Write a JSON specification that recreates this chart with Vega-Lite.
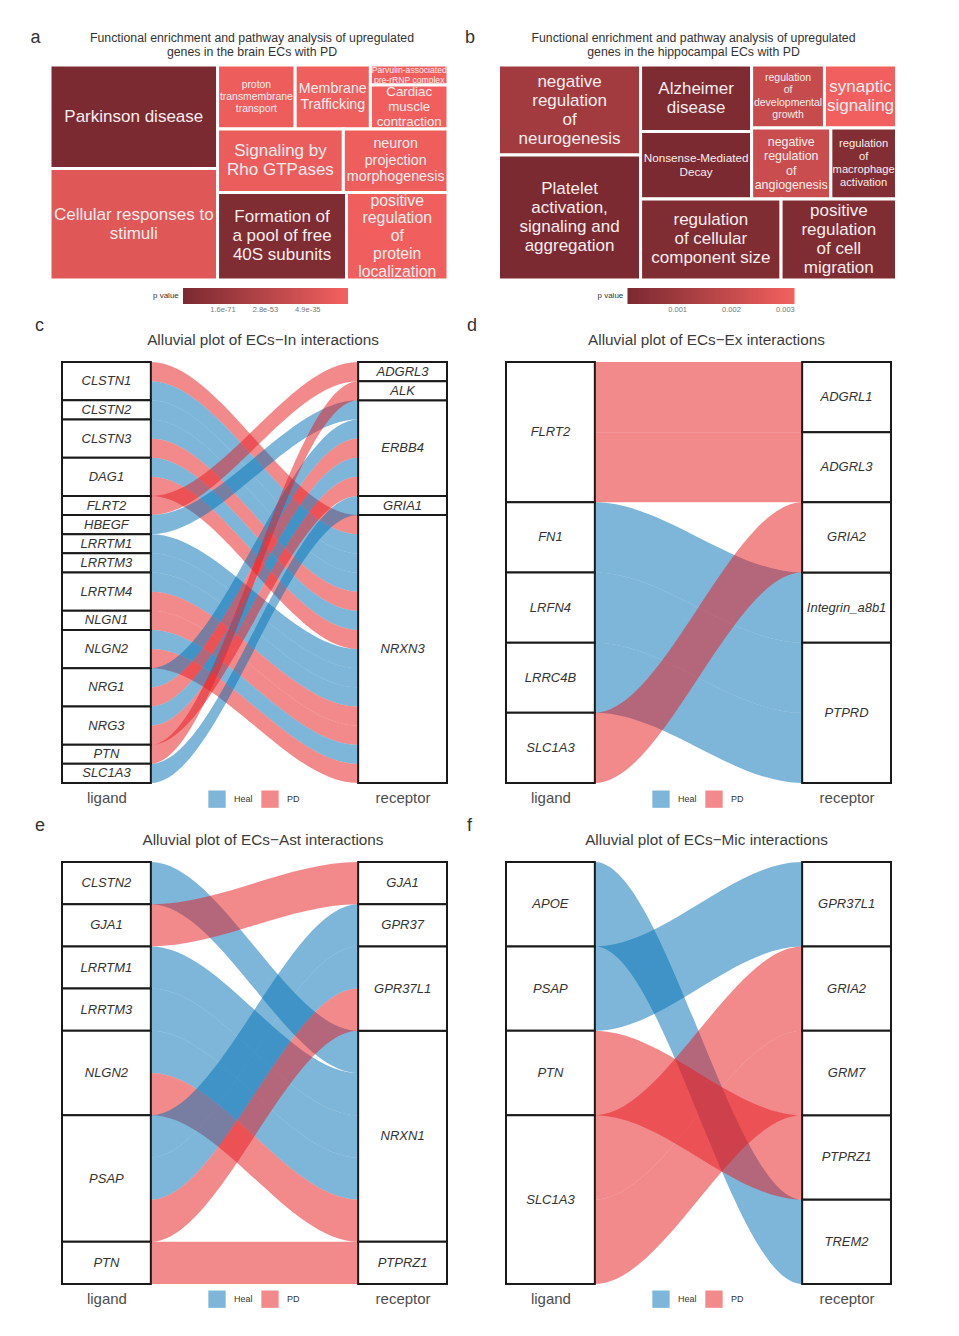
{
  "$schema": "https://vega.github.io/schema/vega-lite/v6.json",
  "background": "white",
  "padding": {"left": 30, "top": 29, "right": 0, "bottom": 0},
  "config": {
    "view": {"stroke": null},
    "font": "Liberation Sans",
    "title": {"font": "Liberation Sans", "fontWeight": "normal", "color": "#333333"},
    "text": {"font": "Liberation Sans"}
  },
  "datasets": {
    "terms_a": [
      {"term": "Parkinson disease", "x0": 0, "x1": 0.421, "y0": 0, "y1": 0.481, "p": 1.2e-88},
      {"term": "Cellular responses to\nstimuli", "x0": 0, "x1": 0.421, "y0": 0.481, "y1": 1, "p": 1e-29},
      {"term": "proton\ntransmembrane\ntransport", "x0": 0.421, "x1": 0.616, "y0": 0, "y1": 0.298, "p": 2e-22},
      {"term": "Membrane\nTrafficking", "x0": 0.616, "x1": 0.805, "y0": 0, "y1": 0.298, "p": 1e-20},
      {"term": "Parvulin-associated\npre-rRNP complex", "x0": 0.805, "x1": 1, "y0": 0, "y1": 0.093, "p": 1e-18},
      {"term": "Cardiac\nmuscle\ncontraction", "x0": 0.805, "x1": 1, "y0": 0.093, "y1": 0.298, "p": 1e-19},
      {"term": "Signaling by\nRho GTPases", "x0": 0.421, "x1": 0.737, "y0": 0.298, "y1": 0.593, "p": 1e-22},
      {"term": "neuron\nprojection\nmorphogenesis", "x0": 0.737, "x1": 1, "y0": 0.298, "y1": 0.593, "p": 3e-21},
      {"term": "Formation of\na pool of free\n40S subunits", "x0": 0.421, "x1": 0.745, "y0": 0.593, "y1": 1, "p": 4e-86},
      {"term": "positive\nregulation\nof\nprotein\nlocalization", "x0": 0.745, "x1": 1, "y0": 0.593, "y1": 1, "p": 1e-19}
    ],
    "terms_b": [
      {"term": "negative\nregulation\nof\nneurogenesis", "x0": 0, "x1": 0.357, "y0": 0, "y1": 0.419, "p": 0.0011},
      {"term": "Platelet\nactivation,\nsignaling and\naggregation", "x0": 0, "x1": 0.357, "y0": 0.419, "y1": 1, "p": 0.0001},
      {"term": "Alzheimer\ndisease", "x0": 0.357, "x1": 0.636, "y0": 0, "y1": 0.309, "p": 0.00015},
      {"term": "Nonsense-Mediated\nDecay", "x0": 0.357, "x1": 0.636, "y0": 0.309, "y1": 0.623, "p": 0.0001},
      {"term": "regulation\nof\ndevelopmental\ngrowth", "x0": 0.636, "x1": 0.819, "y0": 0, "y1": 0.293, "p": 0.0020},
      {"term": "synaptic\nsignaling", "x0": 0.819, "x1": 1, "y0": 0, "y1": 0.293, "p": 0.0031},
      {"term": "negative\nregulation\nof\nangiogenesis", "x0": 0.636, "x1": 0.835, "y0": 0.293, "y1": 0.623, "p": 0.0021},
      {"term": "regulation\nof\nmacrophage\nactivation", "x0": 0.835, "x1": 1, "y0": 0.293, "y1": 0.623, "p": 0.0003},
      {"term": "regulation\nof cellular\ncomponent size", "x0": 0.357, "x1": 0.71, "y0": 0.623, "y1": 1, "p": 0.0002},
      {"term": "positive\nregulation\nof cell\nmigration", "x0": 0.71, "x1": 1, "y0": 0.623, "y1": 1, "p": 0.0002}
    ],
    "flows_c": [
      {"id": 1, "ligand": "CLSTN1", "receptor": "NRXN3", "cond": "PD", "n": 1},
      {"id": 2, "ligand": "CLSTN1", "receptor": "NRXN3", "cond": "Heal", "n": 1},
      {"id": 3, "ligand": "CLSTN2", "receptor": "NRXN3", "cond": "Heal", "n": 1},
      {"id": 4, "ligand": "CLSTN3", "receptor": "NRXN3", "cond": "Heal", "n": 1},
      {"id": 5, "ligand": "CLSTN3", "receptor": "NRXN3", "cond": "PD", "n": 1},
      {"id": 6, "ligand": "DAG1", "receptor": "NRXN3", "cond": "Heal", "n": 1},
      {"id": 7, "ligand": "DAG1", "receptor": "NRXN3", "cond": "PD", "n": 1},
      {"id": 8, "ligand": "FLRT2", "receptor": "ADGRL3", "cond": "PD", "n": 1},
      {"id": 9, "ligand": "HBEGF", "receptor": "ERBB4", "cond": "Heal", "n": 1},
      {"id": 10, "ligand": "LRRTM1", "receptor": "NRXN3", "cond": "Heal", "n": 1},
      {"id": 11, "ligand": "LRRTM3", "receptor": "NRXN3", "cond": "Heal", "n": 1},
      {"id": 12, "ligand": "LRRTM4", "receptor": "NRXN3", "cond": "Heal", "n": 1},
      {"id": 13, "ligand": "LRRTM4", "receptor": "NRXN3", "cond": "PD", "n": 1},
      {"id": 14, "ligand": "NLGN1", "receptor": "NRXN3", "cond": "PD", "n": 1},
      {"id": 15, "ligand": "NLGN2", "receptor": "NRXN3", "cond": "Heal", "n": 1},
      {"id": 16, "ligand": "NLGN2", "receptor": "NRXN3", "cond": "PD", "n": 1},
      {"id": 17, "ligand": "NRG1", "receptor": "ERBB4", "cond": "Heal", "n": 1},
      {"id": 18, "ligand": "NRG1", "receptor": "ERBB4", "cond": "PD", "n": 1},
      {"id": 19, "ligand": "NRG3", "receptor": "ERBB4", "cond": "Heal", "n": 1},
      {"id": 20, "ligand": "NRG3", "receptor": "ERBB4", "cond": "PD", "n": 1},
      {"id": 21, "ligand": "PTN", "receptor": "ALK", "cond": "PD", "n": 1},
      {"id": 22, "ligand": "SLC1A3", "receptor": "GRIA1", "cond": "Heal", "n": 1}
    ],
    "flows_d": [
      {"id": 1, "ligand": "FLRT2", "receptor": "ADGRL1", "cond": "PD", "n": 1},
      {"id": 2, "ligand": "FLRT2", "receptor": "ADGRL3", "cond": "PD", "n": 1},
      {"id": 3, "ligand": "FN1", "receptor": "Integrin_a8b1", "cond": "Heal", "n": 1},
      {"id": 4, "ligand": "LRFN4", "receptor": "PTPRD", "cond": "Heal", "n": 1},
      {"id": 5, "ligand": "LRRC4B", "receptor": "PTPRD", "cond": "Heal", "n": 1},
      {"id": 6, "ligand": "SLC1A3", "receptor": "GRIA2", "cond": "PD", "n": 1}
    ],
    "flows_e": [
      {"id": 1, "ligand": "CLSTN2", "receptor": "NRXN1", "cond": "Heal", "n": 1},
      {"id": 2, "ligand": "GJA1", "receptor": "GJA1", "cond": "PD", "n": 1},
      {"id": 3, "ligand": "LRRTM1", "receptor": "NRXN1", "cond": "Heal", "n": 1},
      {"id": 4, "ligand": "LRRTM3", "receptor": "NRXN1", "cond": "Heal", "n": 1},
      {"id": 5, "ligand": "NLGN2", "receptor": "NRXN1", "cond": "Heal", "n": 1},
      {"id": 6, "ligand": "NLGN2", "receptor": "NRXN1", "cond": "PD", "n": 1},
      {"id": 7, "ligand": "PSAP", "receptor": "GPR37", "cond": "Heal", "n": 1},
      {"id": 8, "ligand": "PSAP", "receptor": "GPR37L1", "cond": "Heal", "n": 1},
      {"id": 9, "ligand": "PSAP", "receptor": "GPR37L1", "cond": "PD", "n": 1},
      {"id": 10, "ligand": "PTN", "receptor": "PTPRZ1", "cond": "PD", "n": 1}
    ],
    "flows_f": [
      {"id": 1, "ligand": "APOE", "receptor": "TREM2", "cond": "Heal", "n": 1},
      {"id": 2, "ligand": "PSAP", "receptor": "GPR37L1", "cond": "Heal", "n": 1},
      {"id": 3, "ligand": "PTN", "receptor": "PTPRZ1", "cond": "PD", "n": 1},
      {"id": 4, "ligand": "SLC1A3", "receptor": "GRIA2", "cond": "PD", "n": 1},
      {"id": 5, "ligand": "SLC1A3", "receptor": "GRM7", "cond": "PD", "n": 1}
    ]
  },
  "spacing": 2,
  "resolve": {"scale": {"color": "independent"}, "legend": {"color": "independent"}},
  "vconcat": [
    {
      "spacing": 14.5,
      "resolve": {"scale": {"color": "independent"}, "legend": {"color": "independent"}},
      "hconcat": [
        {
          "title": {"text": "a", "anchor": "start", "fontSize": 18, "dx": -18, "dy": 15, "offset": 0},
          "resolve": {"scale": {"color": "independent"}, "legend": {"color": "independent"}},
          "vconcat": [
            {
              "width": 398,
              "height": 215,
              "title": {"text": ["Functional enrichment and pathway analysis of upregulated", "genes in the brain ECs with PD"], "fontSize": 12.3, "lineHeight": 14, "offset": 5, "dx": 3},
              "data": {"name": "terms_a"},
              "transform": [
                {"calculate": "indexof(datum.term, 'Parvulin') >= 0 ? 8.6 : indexof(datum.term, 'proton') >= 0 ? 10.4 : indexof(datum.term, 'Cardiac') >= 0 ? 13.3 : indexof(datum.term, 'Membrane') >= 0 ? 14.2 : indexof(datum.term, 'neuron') >= 0 ? 14.3 : indexof(datum.term, 'localization') >= 0 ? 15.8 : 17", "as": "fs"},
                {"calculate": "length(split(datum.term, '\\n'))", "as": "nl"},
                {"calculate": "(datum.x0 + datum.x1) / 2", "as": "cx"},
                {"calculate": "(datum.y0 + datum.y1) / 2 - (datum.nl - 1) / 2 * (datum.fs + 2) / 215", "as": "cy"}
              ],
              "layer": [
                {
                  "mark": {"type": "rect", "stroke": "white", "strokeWidth": 3},
                  "encoding": {
                    "x": {"field": "x0", "type": "quantitative", "scale": {"domain": [0, 1], "nice": false}, "axis": null},
                    "x2": {"field": "x1"},
                    "y": {"field": "y0", "type": "quantitative", "scale": {"domain": [0, 1], "nice": false, "reverse": true}, "axis": null},
                    "y2": {"field": "y1"},
                    "color": {
                      "field": "p", "type": "quantitative",
                      "scale": {"type": "log", "domain": [1e-88, 1e-17], "range": ["#7b2a31", "#f4615f"], "interpolate": "lab"},
                      "legend": {"orient": "none", "legendX": 103, "legendY": 223, "direction": "horizontal", "title": "p value", "titleOrient": "left", "titleFontSize": 8, "titleFontWeight": "normal", "titleColor": "#333333", "titlePadding": 4, "titleBaseline": "middle", "gradientLength": 165, "gradientThickness": 16, "values": [1.6e-71, 2.8e-53, 4.9e-35], "format": ".1e", "labelFontSize": 7.5, "labelColor": "#777777"}
                    }
                  }
                },
                {
                  "mark": {"type": "text", "color": "#f9eded", "lineBreak": "\n", "align": "center", "baseline": "middle"},
                  "encoding": {
                    "x": {"field": "cx", "type": "quantitative", "axis": null},
                    "y": {"field": "cy", "type": "quantitative", "axis": null},
                    "text": {"field": "term"},
                    "size": {"field": "fs", "type": "quantitative", "scale": null, "legend": null}
                  }
                }
              ]
            }
          ]
        },
        {
          "title": {"text": "b", "anchor": "start", "fontSize": 18, "dx": -32, "dy": 15, "offset": 0},
          "resolve": {"scale": {"color": "independent"}, "legend": {"color": "independent"}},
          "vconcat": [
            {
              "width": 398,
              "height": 215,
              "title": {"text": ["Functional enrichment and pathway analysis of upregulated", "genes in the hippocampal ECs with PD"], "fontSize": 12.3, "lineHeight": 14, "offset": 5, "dx": -4},
              "data": {"name": "terms_b"},
              "transform": [
                {"calculate": "indexof(datum.term, 'developmental') >= 0 ? 10.5 : indexof(datum.term, 'macrophage') >= 0 ? 11.2 : indexof(datum.term, 'Nonsense') >= 0 ? 11.7 : indexof(datum.term, 'angiogenesis') >= 0 ? 12.4 : 17", "as": "fs"},
                {"calculate": "length(split(datum.term, '\\n'))", "as": "nl"},
                {"calculate": "(datum.x0 + datum.x1) / 2", "as": "cx"},
                {"calculate": "(datum.y0 + datum.y1) / 2 - (datum.nl - 1) / 2 * (datum.fs + 2) / 215", "as": "cy"}
              ],
              "layer": [
                {
                  "mark": {"type": "rect", "stroke": "white", "strokeWidth": 3},
                  "encoding": {
                    "x": {"field": "x0", "type": "quantitative", "scale": {"domain": [0, 1], "nice": false}, "axis": null},
                    "x2": {"field": "x1"},
                    "y": {"field": "y0", "type": "quantitative", "scale": {"domain": [0, 1], "nice": false, "reverse": true}, "axis": null},
                    "y2": {"field": "y1"},
                    "color": {
                      "field": "p", "type": "quantitative",
                      "scale": {"domain": [0.00007, 0.00317], "nice": false, "range": ["#7b2a31", "#f4615f"], "interpolate": "lab"},
                      "legend": {"orient": "none", "legendX": 99, "legendY": 223, "direction": "horizontal", "title": "p value", "titleOrient": "left", "titleFontSize": 8, "titleFontWeight": "normal", "titleColor": "#333333", "titlePadding": 4, "titleBaseline": "middle", "gradientLength": 167, "gradientThickness": 16, "values": [0.001, 0.002, 0.003], "format": ".3f", "labelFontSize": 7.5, "labelColor": "#777777"}
                    }
                  }
                },
                {
                  "mark": {"type": "text", "color": "#f9eded", "lineBreak": "\n", "align": "center", "baseline": "middle"},
                  "encoding": {
                    "x": {"field": "cx", "type": "quantitative", "axis": null},
                    "y": {"field": "cy", "type": "quantitative", "axis": null},
                    "text": {"field": "term"},
                    "size": {"field": "fs", "type": "quantitative", "scale": null, "legend": null}
                  }
                }
              ]
            }
          ]
        }
      ]
    },
    {
      "spacing": 8,
      "resolve": {"scale": {"color": "independent"}, "legend": {"color": "independent"}},
      "vconcat": [
        {
          "spacing": 19,
          "resolve": {"scale": {"color": "independent"}, "legend": {"color": "independent"}},
          "hconcat": [
            {
              "title": {"text": "c", "anchor": "start", "fontSize": 18, "dx": -15, "dy": 2, "offset": 0},
              "resolve": {"scale": {"color": "independent"}, "legend": {"color": "independent"}},
              "vconcat": [
                {
                  "width": 397,
                  "height": 421,
                  "title": {"text": "Alluvial plot of ECs−In interactions", "fontSize": 15.3, "color": "#3b3b3b", "offset": 13, "dx": 14.5},
                  "data": {"name": "flows_c"},
                  "layer": [
                    {
                      "transform": [
                        {"stack": "n", "groupby": [], "sort": [{"field": "ligand"}, {"field": "receptor"}, {"field": "id"}], "as": ["l0", "l1"]},
                        {"stack": "n", "groupby": [], "sort": [{"field": "receptor"}, {"field": "ligand"}, {"field": "id"}], "as": ["r0", "r1"]},
                        {"calculate": "[1, 1.15, 1.85, 2]", "as": "xs"},
                        {"flatten": ["xs"], "as": ["x"]},
                        {"calculate": "datum.x < 1.5 ? datum.l0 : datum.r0", "as": "y0"},
                        {"calculate": "datum.x < 1.5 ? datum.l1 : datum.r1", "as": "y1"}
                      ],
                      "mark": {"type": "area", "interpolate": "monotone", "opacity": 0.52},
                      "encoding": {
                        "x": {"field": "x", "type": "quantitative", "scale": {"domain": [0.8095, 2.15], "nice": false}, "axis": {"values": [1, 2], "labelExpr": "datum.value == 1 ? 'ligand' : 'receptor'", "title": null, "domain": false, "ticks": false, "grid": false, "labelFontSize": 15, "labelColor": "#4d4d4d", "labelPadding": 7}},
                        "y": {"field": "y0", "type": "quantitative", "scale": {"domain": [0, 22], "nice": false, "reverse": true}, "axis": null, "stack": null},
                        "y2": {"field": "y1"},
                        "detail": {"field": "id", "type": "nominal"},
                        "color": {"field": "cond", "type": "nominal", "scale": {"domain": ["Heal", "PD"], "range": ["#0673b7", "#e71e23"]}, "legend": {"orient": "none", "legendX": 158, "legendY": 428, "direction": "horizontal", "title": null, "symbolType": "square", "symbolSize": 300, "symbolStrokeWidth": 0, "symbolOpacity": 0.52, "labelFontSize": 9, "labelColor": "#333333", "labelOffset": 8, "columnPadding": 8}}
                      }
                    },
                    {
                      "transform": [
                        {"aggregate": [{"op": "sum", "field": "n", "as": "n"}], "groupby": ["ligand"]},
                        {"stack": "n", "groupby": [], "sort": [{"field": "ligand"}], "as": ["s0", "s1"]},
                        {"calculate": "(datum.s0 + datum.s1) / 2", "as": "mid"}
                      ],
                      "layer": [
                        {
                          "mark": {"type": "rect", "fill": "white", "stroke": "#1a1a1a", "strokeWidth": 2},
                          "encoding": {"x": {"datum": 0.85}, "x2": {"datum": 1.15}, "y": {"field": "s0", "type": "quantitative", "axis": null}, "y2": {"field": "s1"}}
                        },
                        {
                          "mark": {"type": "text", "fontStyle": "italic", "fontSize": 13, "color": "#333333"},
                          "encoding": {"x": {"datum": 1}, "y": {"field": "mid", "type": "quantitative", "axis": null}, "text": {"field": "ligand"}}
                        }
                      ]
                    },
                    {
                      "transform": [
                        {"aggregate": [{"op": "sum", "field": "n", "as": "n"}], "groupby": ["receptor"]},
                        {"stack": "n", "groupby": [], "sort": [{"field": "receptor"}], "as": ["s0", "s1"]},
                        {"calculate": "(datum.s0 + datum.s1) / 2", "as": "mid"}
                      ],
                      "layer": [
                        {
                          "mark": {"type": "rect", "fill": "white", "stroke": "#1a1a1a", "strokeWidth": 2},
                          "encoding": {"x": {"datum": 1.85}, "x2": {"datum": 2.15}, "y": {"field": "s0", "type": "quantitative", "axis": null}, "y2": {"field": "s1"}}
                        },
                        {
                          "mark": {"type": "text", "fontStyle": "italic", "fontSize": 13, "color": "#333333"},
                          "encoding": {"x": {"datum": 2}, "y": {"field": "mid", "type": "quantitative", "axis": null}, "text": {"field": "receptor"}}
                        }
                      ]
                    }
                  ]
                }
              ]
            },
            {
              "title": {"text": "d", "anchor": "start", "fontSize": 18, "dx": -27, "dy": 2, "offset": 0},
              "resolve": {"scale": {"color": "independent"}, "legend": {"color": "independent"}},
              "vconcat": [
                {
                  "width": 397,
                  "height": 421,
                  "title": {"text": "Alluvial plot of ECs−Ex interactions", "fontSize": 15.3, "color": "#3b3b3b", "offset": 13, "dx": 14},
                  "data": {"name": "flows_d"},
                  "layer": [
                    {
                      "transform": [
                        {"stack": "n", "groupby": [], "sort": [{"field": "ligand"}, {"field": "receptor"}, {"field": "id"}], "as": ["l0", "l1"]},
                        {"stack": "n", "groupby": [], "sort": [{"field": "receptor"}, {"field": "ligand"}, {"field": "id"}], "as": ["r0", "r1"]},
                        {"calculate": "[1, 1.15, 1.85, 2]", "as": "xs"},
                        {"flatten": ["xs"], "as": ["x"]},
                        {"calculate": "datum.x < 1.5 ? datum.l0 : datum.r0", "as": "y0"},
                        {"calculate": "datum.x < 1.5 ? datum.l1 : datum.r1", "as": "y1"}
                      ],
                      "mark": {"type": "area", "interpolate": "monotone", "opacity": 0.52},
                      "encoding": {
                        "x": {"field": "x", "type": "quantitative", "scale": {"domain": [0.8095, 2.15], "nice": false}, "axis": {"values": [1, 2], "labelExpr": "datum.value == 1 ? 'ligand' : 'receptor'", "title": null, "domain": false, "ticks": false, "grid": false, "labelFontSize": 15, "labelColor": "#4d4d4d", "labelPadding": 7}},
                        "y": {"field": "y0", "type": "quantitative", "scale": {"domain": [0, 6], "nice": false, "reverse": true}, "axis": null, "stack": null},
                        "y2": {"field": "y1"},
                        "detail": {"field": "id", "type": "nominal"},
                        "color": {"field": "cond", "type": "nominal", "scale": {"domain": ["Heal", "PD"], "range": ["#0673b7", "#e71e23"]}, "legend": {"orient": "none", "legendX": 158, "legendY": 428, "direction": "horizontal", "title": null, "symbolType": "square", "symbolSize": 300, "symbolStrokeWidth": 0, "symbolOpacity": 0.52, "labelFontSize": 9, "labelColor": "#333333", "labelOffset": 8, "columnPadding": 8}}
                      }
                    },
                    {
                      "transform": [
                        {"aggregate": [{"op": "sum", "field": "n", "as": "n"}], "groupby": ["ligand"]},
                        {"stack": "n", "groupby": [], "sort": [{"field": "ligand"}], "as": ["s0", "s1"]},
                        {"calculate": "(datum.s0 + datum.s1) / 2", "as": "mid"}
                      ],
                      "layer": [
                        {
                          "mark": {"type": "rect", "fill": "white", "stroke": "#1a1a1a", "strokeWidth": 2},
                          "encoding": {"x": {"datum": 0.85}, "x2": {"datum": 1.15}, "y": {"field": "s0", "type": "quantitative", "axis": null}, "y2": {"field": "s1"}}
                        },
                        {
                          "mark": {"type": "text", "fontStyle": "italic", "fontSize": 13, "color": "#333333"},
                          "encoding": {"x": {"datum": 1}, "y": {"field": "mid", "type": "quantitative", "axis": null}, "text": {"field": "ligand"}}
                        }
                      ]
                    },
                    {
                      "transform": [
                        {"aggregate": [{"op": "sum", "field": "n", "as": "n"}], "groupby": ["receptor"]},
                        {"stack": "n", "groupby": [], "sort": [{"field": "receptor"}], "as": ["s0", "s1"]},
                        {"calculate": "(datum.s0 + datum.s1) / 2", "as": "mid"}
                      ],
                      "layer": [
                        {
                          "mark": {"type": "rect", "fill": "white", "stroke": "#1a1a1a", "strokeWidth": 2},
                          "encoding": {"x": {"datum": 1.85}, "x2": {"datum": 2.15}, "y": {"field": "s0", "type": "quantitative", "axis": null}, "y2": {"field": "s1"}}
                        },
                        {
                          "mark": {"type": "text", "fontStyle": "italic", "fontSize": 13, "color": "#333333"},
                          "encoding": {"x": {"datum": 2}, "y": {"field": "mid", "type": "quantitative", "axis": null}, "text": {"field": "receptor"}}
                        }
                      ]
                    }
                  ]
                }
              ]
            }
          ]
        },
        {
          "spacing": 19,
          "resolve": {"scale": {"color": "independent"}, "legend": {"color": "independent"}},
          "hconcat": [
            {
              "title": {"text": "e", "anchor": "start", "fontSize": 18, "dx": -15, "dy": 2, "offset": 0},
              "resolve": {"scale": {"color": "independent"}, "legend": {"color": "independent"}},
              "vconcat": [
                {
                  "width": 397,
                  "height": 422,
                  "title": {"text": "Alluvial plot of ECs−Ast interactions", "fontSize": 15.3, "color": "#3b3b3b", "offset": 13, "dx": 14.5},
                  "data": {"name": "flows_e"},
                  "layer": [
                    {
                      "transform": [
                        {"stack": "n", "groupby": [], "sort": [{"field": "ligand"}, {"field": "receptor"}, {"field": "id"}], "as": ["l0", "l1"]},
                        {"stack": "n", "groupby": [], "sort": [{"field": "receptor"}, {"field": "ligand"}, {"field": "id"}], "as": ["r0", "r1"]},
                        {"calculate": "[1, 1.15, 1.85, 2]", "as": "xs"},
                        {"flatten": ["xs"], "as": ["x"]},
                        {"calculate": "datum.x < 1.5 ? datum.l0 : datum.r0", "as": "y0"},
                        {"calculate": "datum.x < 1.5 ? datum.l1 : datum.r1", "as": "y1"}
                      ],
                      "mark": {"type": "area", "interpolate": "monotone", "opacity": 0.52},
                      "encoding": {
                        "x": {"field": "x", "type": "quantitative", "scale": {"domain": [0.8095, 2.15], "nice": false}, "axis": {"values": [1, 2], "labelExpr": "datum.value == 1 ? 'ligand' : 'receptor'", "title": null, "domain": false, "ticks": false, "grid": false, "labelFontSize": 15, "labelColor": "#4d4d4d", "labelPadding": 7}},
                        "y": {"field": "y0", "type": "quantitative", "scale": {"domain": [0, 10], "nice": false, "reverse": true}, "axis": null, "stack": null},
                        "y2": {"field": "y1"},
                        "detail": {"field": "id", "type": "nominal"},
                        "color": {"field": "cond", "type": "nominal", "scale": {"domain": ["Heal", "PD"], "range": ["#0673b7", "#e71e23"]}, "legend": {"orient": "none", "legendX": 158, "legendY": 428, "direction": "horizontal", "title": null, "symbolType": "square", "symbolSize": 300, "symbolStrokeWidth": 0, "symbolOpacity": 0.52, "labelFontSize": 9, "labelColor": "#333333", "labelOffset": 8, "columnPadding": 8}}
                      }
                    },
                    {
                      "transform": [
                        {"aggregate": [{"op": "sum", "field": "n", "as": "n"}], "groupby": ["ligand"]},
                        {"stack": "n", "groupby": [], "sort": [{"field": "ligand"}], "as": ["s0", "s1"]},
                        {"calculate": "(datum.s0 + datum.s1) / 2", "as": "mid"}
                      ],
                      "layer": [
                        {
                          "mark": {"type": "rect", "fill": "white", "stroke": "#1a1a1a", "strokeWidth": 2},
                          "encoding": {"x": {"datum": 0.85}, "x2": {"datum": 1.15}, "y": {"field": "s0", "type": "quantitative", "axis": null}, "y2": {"field": "s1"}}
                        },
                        {
                          "mark": {"type": "text", "fontStyle": "italic", "fontSize": 13, "color": "#333333"},
                          "encoding": {"x": {"datum": 1}, "y": {"field": "mid", "type": "quantitative", "axis": null}, "text": {"field": "ligand"}}
                        }
                      ]
                    },
                    {
                      "transform": [
                        {"aggregate": [{"op": "sum", "field": "n", "as": "n"}], "groupby": ["receptor"]},
                        {"stack": "n", "groupby": [], "sort": [{"field": "receptor"}], "as": ["s0", "s1"]},
                        {"calculate": "(datum.s0 + datum.s1) / 2", "as": "mid"}
                      ],
                      "layer": [
                        {
                          "mark": {"type": "rect", "fill": "white", "stroke": "#1a1a1a", "strokeWidth": 2},
                          "encoding": {"x": {"datum": 1.85}, "x2": {"datum": 2.15}, "y": {"field": "s0", "type": "quantitative", "axis": null}, "y2": {"field": "s1"}}
                        },
                        {
                          "mark": {"type": "text", "fontStyle": "italic", "fontSize": 13, "color": "#333333"},
                          "encoding": {"x": {"datum": 2}, "y": {"field": "mid", "type": "quantitative", "axis": null}, "text": {"field": "receptor"}}
                        }
                      ]
                    }
                  ]
                }
              ]
            },
            {
              "title": {"text": "f", "anchor": "start", "fontSize": 18, "dx": -27, "dy": 2, "offset": 0},
              "resolve": {"scale": {"color": "independent"}, "legend": {"color": "independent"}},
              "vconcat": [
                {
                  "width": 397,
                  "height": 422,
                  "title": {"text": "Alluvial plot of ECs−Mic interactions", "fontSize": 15.3, "color": "#3b3b3b", "offset": 13, "dx": 14},
                  "data": {"name": "flows_f"},
                  "layer": [
                    {
                      "transform": [
                        {"stack": "n", "groupby": [], "sort": [{"field": "ligand"}, {"field": "receptor"}, {"field": "id"}], "as": ["l0", "l1"]},
                        {"stack": "n", "groupby": [], "sort": [{"field": "receptor"}, {"field": "ligand"}, {"field": "id"}], "as": ["r0", "r1"]},
                        {"calculate": "[1, 1.15, 1.85, 2]", "as": "xs"},
                        {"flatten": ["xs"], "as": ["x"]},
                        {"calculate": "datum.x < 1.5 ? datum.l0 : datum.r0", "as": "y0"},
                        {"calculate": "datum.x < 1.5 ? datum.l1 : datum.r1", "as": "y1"}
                      ],
                      "mark": {"type": "area", "interpolate": "monotone", "opacity": 0.52},
                      "encoding": {
                        "x": {"field": "x", "type": "quantitative", "scale": {"domain": [0.8095, 2.15], "nice": false}, "axis": {"values": [1, 2], "labelExpr": "datum.value == 1 ? 'ligand' : 'receptor'", "title": null, "domain": false, "ticks": false, "grid": false, "labelFontSize": 15, "labelColor": "#4d4d4d", "labelPadding": 7}},
                        "y": {"field": "y0", "type": "quantitative", "scale": {"domain": [0, 5], "nice": false, "reverse": true}, "axis": null, "stack": null},
                        "y2": {"field": "y1"},
                        "detail": {"field": "id", "type": "nominal"},
                        "color": {"field": "cond", "type": "nominal", "scale": {"domain": ["Heal", "PD"], "range": ["#0673b7", "#e71e23"]}, "legend": {"orient": "none", "legendX": 158, "legendY": 428, "direction": "horizontal", "title": null, "symbolType": "square", "symbolSize": 300, "symbolStrokeWidth": 0, "symbolOpacity": 0.52, "labelFontSize": 9, "labelColor": "#333333", "labelOffset": 8, "columnPadding": 8}}
                      }
                    },
                    {
                      "transform": [
                        {"aggregate": [{"op": "sum", "field": "n", "as": "n"}], "groupby": ["ligand"]},
                        {"stack": "n", "groupby": [], "sort": [{"field": "ligand"}], "as": ["s0", "s1"]},
                        {"calculate": "(datum.s0 + datum.s1) / 2", "as": "mid"}
                      ],
                      "layer": [
                        {
                          "mark": {"type": "rect", "fill": "white", "stroke": "#1a1a1a", "strokeWidth": 2},
                          "encoding": {"x": {"datum": 0.85}, "x2": {"datum": 1.15}, "y": {"field": "s0", "type": "quantitative", "axis": null}, "y2": {"field": "s1"}}
                        },
                        {
                          "mark": {"type": "text", "fontStyle": "italic", "fontSize": 13, "color": "#333333"},
                          "encoding": {"x": {"datum": 1}, "y": {"field": "mid", "type": "quantitative", "axis": null}, "text": {"field": "ligand"}}
                        }
                      ]
                    },
                    {
                      "transform": [
                        {"aggregate": [{"op": "sum", "field": "n", "as": "n"}], "groupby": ["receptor"]},
                        {"stack": "n", "groupby": [], "sort": [{"field": "receptor"}], "as": ["s0", "s1"]},
                        {"calculate": "(datum.s0 + datum.s1) / 2", "as": "mid"}
                      ],
                      "layer": [
                        {
                          "mark": {"type": "rect", "fill": "white", "stroke": "#1a1a1a", "strokeWidth": 2},
                          "encoding": {"x": {"datum": 1.85}, "x2": {"datum": 2.15}, "y": {"field": "s0", "type": "quantitative", "axis": null}, "y2": {"field": "s1"}}
                        },
                        {
                          "mark": {"type": "text", "fontStyle": "italic", "fontSize": 13, "color": "#333333"},
                          "encoding": {"x": {"datum": 2}, "y": {"field": "mid", "type": "quantitative", "axis": null}, "text": {"field": "receptor"}}
                        }
                      ]
                    }
                  ]
                }
              ]
            }
          ]
        }
      ]
    }
  ]
}
